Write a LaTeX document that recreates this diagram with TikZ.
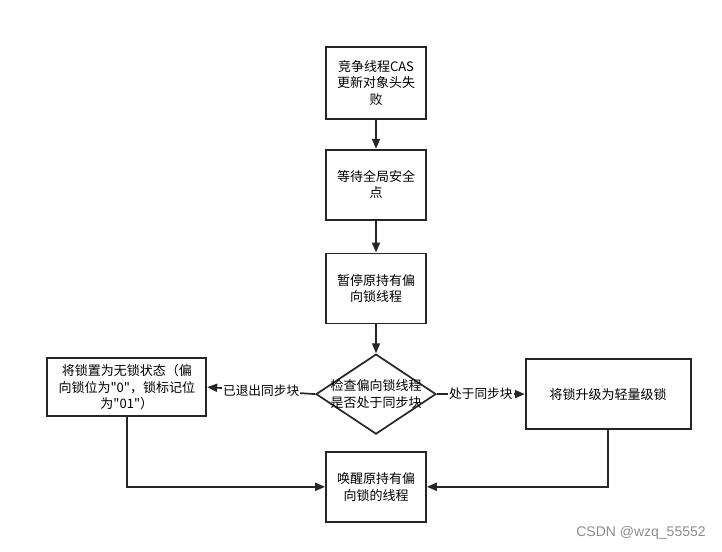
\documentclass[tikz,border=0pt]{standalone}
\usepackage{fontspec}
\newfontfamily\cjk{Noto Sans CJK SC}
\newfontfamily\wmfont{Liberation Sans}
\usetikzlibrary{positioning,arrows.meta,shapes.geometric}
\tikzstyle{stepbox}=[rectangle, draw=black!85, fill=white, line width=1.7pt,
 minimum width=100pt, minimum height=70pt, inner sep=2pt, align=center,
 font=\cjk\fontsize{13pt}{16.5pt}\selectfont]
\tikzstyle{decision}=[diamond, aspect=1.5, draw=black!85, fill=white, line width=1.7pt,
 minimum width=120pt, minimum height=80pt, inner sep=-5pt, align=center,
 font=\cjk\fontsize{13pt}{16.5pt}\selectfont]
\tikzstyle{flow}=[-{Triangle[length=10pt,width=8pt]}, line width=1.7pt, draw=black!85]
\tikzstyle{lbl}=[fill=white, inner sep=1pt, font=\cjk\fontsize{12.7pt}{15pt}\selectfont]
\begin{document}
\begin{tikzpicture}[x=1pt, y=1pt, node distance=30pt]
\useasboundingbox (0,0) rectangle (722,-551);

    \node (cas) [stepbox, minimum height=72pt] at (376,-83) {竞争线程CAS\\更新对象头失\\败};
    \node (safepoint) [stepbox, below=29pt of cas] {等待全局安全\\点};
    \node (pause) [stepbox, below=32pt of safepoint] {暂停原持有偏\\向锁线程};
    \node (check) [decision, below=29pt of pause] {检查偏向锁线程\\是否处于同步块};
    \node (wake) [stepbox, below=16pt of check] {唤醒原持有偏\\向锁的线程};

    \node (lockfree) [stepbox, minimum width=159pt, minimum height=58pt, left=108pt of check, yshift=7pt]
        {将锁置为无锁状态（偏\\向锁位为"0"，锁标记位\\为"01"）};
    \node (upgrade) [stepbox, minimum width=165pt, right=88pt of check] {将锁升级为轻量级锁};

    \node (mark) [text=black!45, font=\wmfont\fontsize{14pt}{14pt}\selectfont] at (641,-533) {CSDN @wzq\_55552};

   \draw[flow] (cas.south) to (safepoint.north);
   \draw[flow] (safepoint.south) to (pause.north);
   \draw[flow] (pause.south) to (check.north);

   \draw[flow] (check.west) -- node[lbl] {已退出同步块} (lockfree.east);
   \draw[flow] (check.east) -- node[lbl] {处于同步块} (upgrade.west);

   \draw[flow] (lockfree.south) |- (wake.west);
   \draw[flow] (upgrade.south) |- (wake.east);

\end{tikzpicture}
\end{document}
